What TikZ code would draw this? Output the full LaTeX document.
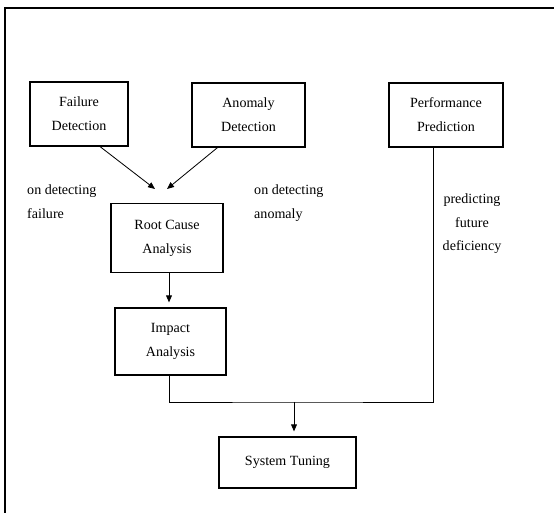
\documentclass[tikz,border=0pt]{standalone}
\usepackage{fontspec}
\setmainfont{Liberation Serif}
\usepackage{tikz}
\usetikzlibrary{arrows.meta}

\tikzset{
  box/.style={draw, line width=1pt, align=center, inner sep=0pt,
    font=\fontsize{12}{20.5}\selectfont},
  note/.style={align=left, inner sep=0pt, font=\fontsize{12}{20}\selectfont},
  flow/.style={line width=0.7pt, -{Triangle[length=6pt,width=5pt]}},
  line/.style={line width=0.7pt}
}

\begin{document}
\begin{tikzpicture}[x=0.03cm, y=-0.03cm]

\useasboundingbox (0,0) rectangle (554,513);

% frame (only top and left show)
\draw[line width=1.5pt] (5,513) -- (5,8) -- (554,8);

% boxes
\node[box, minimum width=98*0.03cm, minimum height=64*0.03cm] (fail) at (79,114) {Failure\\Detection};
\node[box, minimum width=113*0.03cm, minimum height=64*0.03cm] (anom) at (248.5,115) {Anomaly\\Detection};
\node[box, minimum width=114*0.03cm, minimum height=64*0.03cm] (perf) at (446,115) {Performance\\Prediction};
\node[box, minimum width=112*0.03cm, minimum height=69*0.03cm] (rca) at (167,238) {Root Cause\\Analysis};
\node[box, minimum width=111*0.03cm, minimum height=67*0.03cm] (impact) at (170.5,341.5) {Impact\\Analysis};
\node[box, minimum width=137*0.03cm, minimum height=51*0.03cm] (tune) at (287.5,462.5) {System Tuning};

% labels
\node[note, anchor=north west] (lfail) at (27,185) {on detecting\\failure};
\node[note, anchor=north west] (lanom) at (254,185) {on detecting\\anomaly};
\node[note, align=center, anchor=north] (lperf) at (472,194) {predicting\\future\\deficiency};

% ends and joins
\coordinate (rcain1) at (155,189);
\coordinate (rcain2) at (167,189);
\coordinate (join) at (294,402);

\draw[flow] ([xshift=21*0.03cm]fail.south) -- (rcain1);
\draw[flow] ([xshift=-31*0.03cm]anom.south) -- (rcain2);
\draw[flow, shorten >=5*0.03cm] ([xshift=2*0.03cm]rca.south) -- ([xshift=2*0.03cm]rca.south |- impact.north);

\draw[line] ([xshift=-1.5*0.03cm]impact.south) |- (join) -| ([xshift=-13*0.03cm]perf.south);
\draw[flow, shorten >=5*0.03cm] (join) -- (join |- tune.north);

\end{tikzpicture}
\end{document}
